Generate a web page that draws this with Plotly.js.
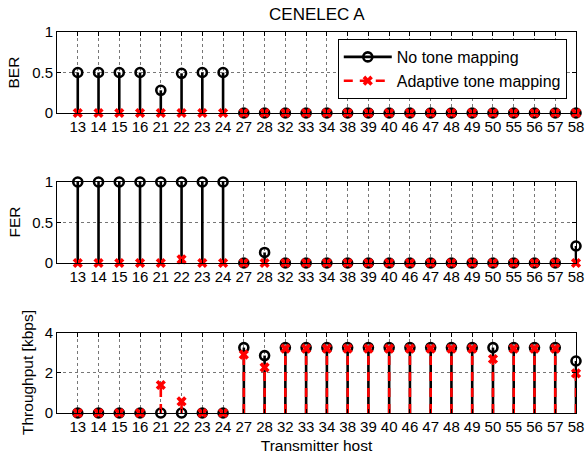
<!DOCTYPE html>
<html>
<head>
<meta charset="utf-8">
<script src="https://cdn.plot.ly/plotly-3.0.1.min.js"></script>
<style>html,body{margin:0;padding:0;background:#fff;}#chart{width:585px;height:454px;}</style>
</head>
<body>
<div id="chart"></div>
<script>
const hosts = ['13','14','15','16','21','22','23','24','27','28','32','33','34','38','39','40','46','47','48','49','50','55','56','57','58'];
const berNoTM = [0.5,0.5,0.5,0.5,0.28,0.49,0.5,0.5,0,0,0,0,0,0,0,0,0,0,0,0,0,0,0,0,0];
const berATM  = [0,0,0,0,0,0,0,0,0,0,0,0,0,0,0,0,0,0,0,0,0,0,0,0,0];
const ferNoTM = [1,1,1,1,1,1,1,1,0,0.13,0,0,0,0,0,0,0,0,0,0,0,0,0,0,0.21];
const ferATM  = [0,0,0,0,0,0.045,0,0,0,0,0,0,0,0,0,0,0,0,0,0,0,0,0,0,0];
const thrNoTM = [0,0,0,0,0,0,0,0,3.27,2.87,3.27,3.27,3.27,3.27,3.27,3.27,3.27,3.27,3.27,3.27,3.27,3.27,3.27,3.27,2.6];
const thrATM  = [0,0,0,0,1.4,0.58,0,0,2.92,2.28,3.22,3.22,3.22,3.22,3.22,3.22,3.22,3.22,3.22,3.22,2.7,3.22,3.22,3.22,1.98];
const legendNames = ['No tone mapping','Adaptive tone mapping'];
const yTitles = ['BER','FER','Throughput [kbps]'];

const idx = hosts.map((h,i)=>i+1);
function stems(vals){
  const x=[],y=[];
  vals.forEach((v,i)=>{x.push(idx[i],idx[i],null);y.push(0,v,null);});
  return {x,y};
}
const blackLine = {color:'#000', width:2.6};
const redLine = {color:'#ff0000', width:2.6, dash:'9px,7px'};
const circ = {symbol:'circle-open', size:9, color:'#000', line:{width:2.6, color:'#000'}};
const xm = {symbol:'x', size:9, color:'#ff0000', line:{width:0}};

const traces=[];
[[berNoTM,berATM,'x','y'],[ferNoTM,ferATM,'x2','y2'],[thrNoTM,thrATM,'x3','y3']].forEach(([a,b,xa,ya])=>{
  const sa=stems(a), sb=stems(b);
  traces.push({x:sa.x,y:sa.y,xaxis:xa,yaxis:ya,mode:'lines',line:blackLine,showlegend:false,hoverinfo:'skip',cliponaxis:false});
  traces.push({x:idx,y:a,xaxis:xa,yaxis:ya,mode:'markers',marker:circ,showlegend:false,cliponaxis:false});
  traces.push({x:sb.x,y:sb.y,xaxis:xa,yaxis:ya,mode:'lines',line:redLine,showlegend:false,hoverinfo:'skip',cliponaxis:false});
  traces.push({x:idx,y:b,xaxis:xa,yaxis:ya,mode:'markers',marker:xm,showlegend:false,cliponaxis:false});
});
traces.push({x:[null],y:[null],mode:'lines+markers',line:blackLine,marker:circ,name:legendNames[0]});
traces.push({x:[null],y:[null],mode:'lines+markers',line:redLine,marker:xm,name:legendNames[1]});

const fam = '"Liberation Sans", Arial, sans-serif';
const tickFont = {family:fam, size:15, color:'#000'};
const titleFont = {family:fam, size:15.5, color:'#000'};
function xax(anchor, title){
  const o = {anchor:anchor, range:[0,25], tickmode:'array', tickvals:idx, ticktext:hosts,
    showline:true, linecolor:'#000', linewidth:1, mirror:'allticks', ticks:'inside', ticklen:4, tickcolor:'#000',
    showgrid:true, gridcolor:'#777', griddash:'dot', gridwidth:1, zeroline:false, tickfont:tickFont, fixedrange:true};
  if(title) o.title={text:title, font:titleFont, standoff:9};
  return o;
}
function yax(anchor, dom, range, tv){
  return {anchor:anchor, domain:dom, range:range, tickmode:'array', tickvals:tv,
    showline:true, linecolor:'#000', linewidth:1, mirror:'allticks', ticks:'inside', ticklen:4, tickcolor:'#000',
    showgrid:true, gridcolor:'#777', griddash:'dot', gridwidth:1, zeroline:false, tickfont:tickFont, fixedrange:true};
}
const doms = [[0.7874,1],[0.3937,0.6063],[0,0.21]];
const titleX = [14, 14, 28];
const annotations = yTitles.map((t,i)=>({text:t, textangle:-90, xref:'paper', yref:'paper',
  x:0, xshift:titleX[i]-57, y:(doms[i][0]+doms[i][1])/2, xanchor:'center', yanchor:'middle',
  showarrow:false, font:titleFont}));
const layout = {
  width:585, height:454,
  margin:{l:57, r:9, t:32, b:41},
  paper_bgcolor:'#fff', plot_bgcolor:'#fff',
  font:tickFont,
  title:{text:'CENELEC A', font:{family:fam, size:17, color:'#000'}, x:0.5415, xanchor:'center', y:0.97, yanchor:'middle'},
  xaxis:xax('y'), xaxis2:xax('y2'), xaxis3:xax('y3','Transmitter host'),
  yaxis:yax('x',doms[0],[0,1],[0,0.5,1]),
  yaxis2:yax('x2',doms[1],[0,1],[0,0.5,1]),
  yaxis3:yax('x3',doms[2],[0,4],[0,2,4]),
  annotations:annotations,
  legend:{x:0.541, y:0.9816, xanchor:'left', yanchor:'top', bgcolor:'#fff', bordercolor:'#000', borderwidth:1,
    font:{family:fam, size:16, color:'#000'}, tracegroupgap:0, itemwidth:48},
  showlegend:true
};
Plotly.newPlot('chart', traces, layout, {displayModeBar:false, staticPlot:true});
</script>
</body>
</html>
